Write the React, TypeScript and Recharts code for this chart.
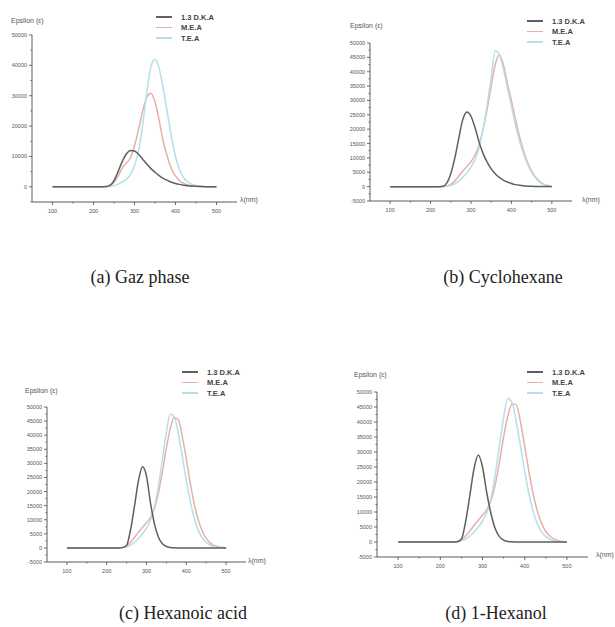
import React from 'react';
import { LineChart, Line, XAxis, YAxis } from 'recharts';

// wavelength grid (nm)
const wavelengths = [
  100, 150, 200, 210, 220, 230, 240, 250, 260, 270, 280, 290, 300, 310, 320, 330, 340,
  350, 360, 370, 380, 390, 400, 410, 420, 430, 440, 450, 460, 470, 480, 490, 500,
];

const seriesNames = ['1.3 D.K.A', 'M.E.A', 'T.E.A'];

// (a) Gaz phase
const gazDKA = [
  0, 0, 0, 0, 0, 100, 500, 2000, 5000, 8300, 10800, 12000, 11800, 10700, 9100, 7500, 6000,
  4800, 3700, 2800, 2100, 1500, 1100, 800, 550, 380, 250, 160, 100, 60, 40, 20, 10,
];
const gazMEA = [
  0, 0, 0, 0, 0, 50, 400, 1500, 3500, 6200, 7800, 9500, 13500, 19000, 25000, 29500, 30800,
  28000, 22000, 15000, 10000, 6000, 3600, 2000, 1100, 600, 300, 150, 80, 40, 20, 10, 0,
];
const gazTEA = [
  0, 0, 0, 0, 0, 0, 100, 400, 900, 1600, 2500, 4000, 7000, 12000, 20500, 31000, 39500,
  42000, 39000, 32500, 24500, 16500, 10000, 5600, 3000, 1600, 800, 400, 200, 100, 50, 20, 0,
];

// (b) Cyclohexane
const cycDKA = [
  0, 0, 0, 0, 0, 100, 1200, 4500, 10000, 17000, 23500, 26000, 24500, 20500, 15500, 11500, 8500,
  6200, 4500, 3200, 2300, 1600, 1100, 700, 450, 280, 170, 100, 60, 30, 20, 10, 0,
];
const cycMEA = [
  0, 0, 0, 0, 0, 0, 200, 800, 2000, 3700, 5500, 7000, 8700, 11000, 14500, 20000, 27000,
  35000, 42500, 45800, 42500, 36000, 30000, 23500, 17500, 12500, 8500, 5500, 3300, 1800, 900, 400, 150,
];
const cycTEA = [
  0, 0, 0, 0, 0, 0, 100, 400, 1000, 2000, 3300, 4800, 6800, 9500, 13500, 20000, 28500,
  38000, 47300, 46000, 41000, 34500, 28000, 21500, 16000, 11500, 7800, 5000, 3000, 1600, 800, 350, 100,
];

// (c) Hexanoic acid
const hexDKA = [
  0, 0, 0, 0, 0, 0, 100, 900, 6500, 15000, 24000, 28800, 25500, 16000, 8500, 3800, 1500,
  500, 150, 50, 0, 0, 0, 0, 0, 0, 0, 0, 0, 0, 0, 0, 0,
];
const hexMEA = [
  0, 0, 0, 0, 0, 0, 200, 800, 2000, 3800, 5600, 7300, 9000, 10800, 14000, 19500, 27000,
  35500, 42500, 46300, 45500, 39500, 31500, 23000, 15500, 10000, 6000, 3400, 1800, 900, 450, 200, 100,
];
const hexTEA = [
  0, 0, 0, 0, 0, 0, 100, 400, 1000, 2000, 3300, 5000, 7000, 9800, 14500, 22000, 31500,
  41000, 47500, 46500, 40500, 32500, 24000, 16500, 10500, 6300, 3600, 1900, 950, 450, 200, 100, 50,
];

// (d) 1-Hexanol
const holDKA = [
  0, 0, 0, 0, 0, 0, 100, 1000, 6800, 15500, 24500, 29000, 25000, 16500, 9500, 4500, 1800,
  600, 200, 60, 0, 0, 0, 0, 0, 0, 0, 0, 0, 0, 0, 0, 0,
];
const holMEA = [
  0, 0, 0, 0, 0, 0, 200, 800, 2000, 3700, 5500, 7200, 8900, 10700, 13800, 19000, 26500,
  35000, 42000, 46000, 45800, 40000, 32000, 23500, 16000, 10300, 6200, 3500, 1900, 950, 450, 200, 100,
];
const holTEA = [
  0, 0, 0, 0, 0, 0, 100, 400, 1000, 2000, 3300, 5000, 7000, 9800, 14500, 22500, 32000,
  41500, 47800, 46500, 40000, 32000, 23500, 16000, 10200, 6000, 3400, 1800, 900, 400, 200, 80, 30,
];

const xTicks = [100, 150, 200, 250, 300, 350, 400, 450, 500];
const xMajor = [100, 200, 300, 400, 500];
const yTicksWide = [-5000, 0, 5000, 10000, 15000, 20000, 25000, 30000, 35000, 40000, 45000, 50000];
const yMajorWide = [0, 10000, 20000, 30000, 40000, 50000];
const yTicksFine = [
  -5000, -2500, 0, 2500, 5000, 7500, 10000, 12500, 15000, 17500, 20000, 22500, 25000,
  27500, 30000, 32500, 35000, 37500, 40000, 42500, 45000, 47500, 50000,
];
const yMajorFine = [-5000, 0, 5000, 10000, 15000, 20000, 25000, 30000, 35000, 40000, 45000, 50000];

const captions = ['(a) Gaz phase', '(b) Cyclohexane', '(c) Hexanoic acid', '(d) 1-Hexanol'];

const COLORS = ['#5f5f5f', '#e9b0a8', '#b4dfeb'];
const AXIS = '#4a4a4a';
const SANS = 'Arial, "Liberation Sans", sans-serif';

const makeRows = (dka: number[], mea: number[], tea: number[]) =>
  wavelengths.map((w, i) => ({ w, dka: dka[i], mea: mea[i], tea: tea[i] }));

const panels = [
  {
    rows: makeRows(gazDKA, gazMEA, gazTEA),
    yTicks: yTicksWide, yMajor: yMajorWide,
    plot: { left: 32, right: 237, top: 35, bottom: 202 },
    eps: { x: 11, y: 22 }, legend: { x: 156, y: 17 }, lambda: { x: 240, y: 201 },
  },
  {
    rows: makeRows(cycDKA, cycMEA, cycTEA),
    yTicks: yTicksFine, yMajor: yMajorFine,
    plot: { left: 370, right: 572, top: 43, bottom: 201 },
    eps: { x: 350, y: 27 }, legend: { x: 527, y: 21 }, lambda: { x: 582, y: 201 },
  },
  {
    rows: makeRows(hexDKA, hexMEA, hexTEA),
    yTicks: yTicksFine, yMajor: yMajorFine,
    plot: { left: 47, right: 246, top: 407, bottom: 562 },
    eps: { x: 25, y: 392 }, legend: { x: 182, y: 372 }, lambda: { x: 248, y: 562 },
  },
  {
    rows: makeRows(holDKA, holMEA, holTEA),
    yTicks: yTicksFine, yMajor: yMajorFine,
    plot: { left: 377, right: 588, top: 392, bottom: 557 },
    eps: { x: 354, y: 376 }, legend: { x: 527, y: 372 }, lambda: { x: 596, y: 556 },
  },
];

const captionPos = [
  { x: 140, y: 277 },
  { x: 503, y: 277 },
  { x: 183, y: 613 },
  { x: 496, y: 613 },
];

const YTick = (props: any) => {
  const { x, y, payload, majors } = props;
  const major = majors.includes(payload.value);
  return (
    <g>
      <line x1={x} x2={x - (major ? 3 : 1.5)} y1={y} y2={y} stroke={AXIS} strokeWidth={0.8} />
      {major && (
        <text x={x - 5} y={y} dy={2} textAnchor="end" fontSize={5.5} fill="#555" fontFamily={SANS}>
          {payload.value}
        </text>
      )}
    </g>
  );
};

const XTick = (props: any) => {
  const { x, y, payload } = props;
  const major = xMajor.includes(payload.value);
  return (
    <g>
      <line x1={x} x2={x} y1={y} y2={y + (major ? 3 : 1.5)} stroke={AXIS} strokeWidth={0.8} />
      {major && (
        <text x={x} y={y + 11} textAnchor="middle" fontSize={5.5} fill="#555" fontFamily={SANS}>
          {payload.value}
        </text>
      )}
    </g>
  );
};

const Panel = ({ p }: { p: (typeof panels)[number] }) => {
  const { plot } = p;
  const yw = 32;
  const width = plot.right - plot.left + yw + 5;
  const height = plot.bottom - plot.top + 5 + 15;
  return (
    <>
      <div style={{ position: 'absolute', left: plot.left - yw, top: plot.top - 5 }}>
        <LineChart width={width} height={height} data={p.rows} margin={{ top: 5, right: 5, bottom: 0, left: 0 }}>
          <XAxis
            dataKey="w"
            type="number"
            domain={[50, 550]}
            ticks={xTicks}
            interval={0}
            height={15}
            tickSize={0}
            tickMargin={0}
            tickLine={false}
            axisLine={{ stroke: AXIS, strokeWidth: 0.9 }}
            tick={<XTick />}
          />
          <YAxis
            type="number"
            domain={[-5000, 50000]}
            ticks={p.yTicks}
            interval={0}
            width={yw}
            allowDataOverflow
            tickSize={0}
            tickMargin={0}
            tickLine={false}
            axisLine={{ stroke: AXIS, strokeWidth: 0.9 }}
            tick={<YTick majors={p.yMajor} />}
          />
          <Line type="monotone" dataKey="mea" stroke={COLORS[1]} strokeWidth={1.5} dot={false} isAnimationActive={false} />
          <Line type="monotone" dataKey="tea" stroke={COLORS[2]} strokeWidth={1.5} dot={false} isAnimationActive={false} />
          <Line type="monotone" dataKey="dka" stroke={COLORS[0]} strokeWidth={1.5} dot={false} isAnimationActive={false} />
        </LineChart>
      </div>
      <div style={{ position: 'absolute', left: p.eps.x, top: p.eps.y - 5, fontSize: 7, color: '#555', fontFamily: SANS, whiteSpace: 'nowrap' }}>
        Epsilon (ε)
      </div>
      <div style={{ position: 'absolute', left: p.lambda.x, top: p.lambda.y - 5, fontSize: 7, color: '#555', fontFamily: SANS, whiteSpace: 'nowrap' }}>
        λ(nm)
      </div>
      {seriesNames.map((name, i) => (
        <div
          key={name}
          style={{ position: 'absolute', left: p.legend.x, top: p.legend.y + i * 10.5 - 5, height: 10, display: 'flex', alignItems: 'center', whiteSpace: 'nowrap' }}
        >
          <div style={{ width: 16, height: 1.6, background: COLORS[i], marginRight: 9 }} />
          <span style={{ fontSize: 7.5, fontWeight: 700, color: '#444', fontFamily: SANS }}>{name}</span>
        </div>
      ))}
    </>
  );
};

export default function App() {
  return (
    <div style={{ position: 'absolute', left: 0, top: 0, width: 615, height: 627, background: '#fff', overflow: 'hidden' }}>
      {panels.map((p, i) => (
        <Panel key={i} p={p} />
      ))}
      {captions.map((c, i) => (
        <div
          key={c}
          style={{
            position: 'absolute',
            left: captionPos[i].x - 100,
            width: 200,
            top: captionPos[i].y - 10,
            textAlign: 'center',
            fontFamily: '"Liberation Serif", "Times New Roman", serif',
            fontSize: 18,
            color: '#222',
            lineHeight: '20px',
          }}
        >
          {c}
        </div>
      ))}
    </div>
  );
}
